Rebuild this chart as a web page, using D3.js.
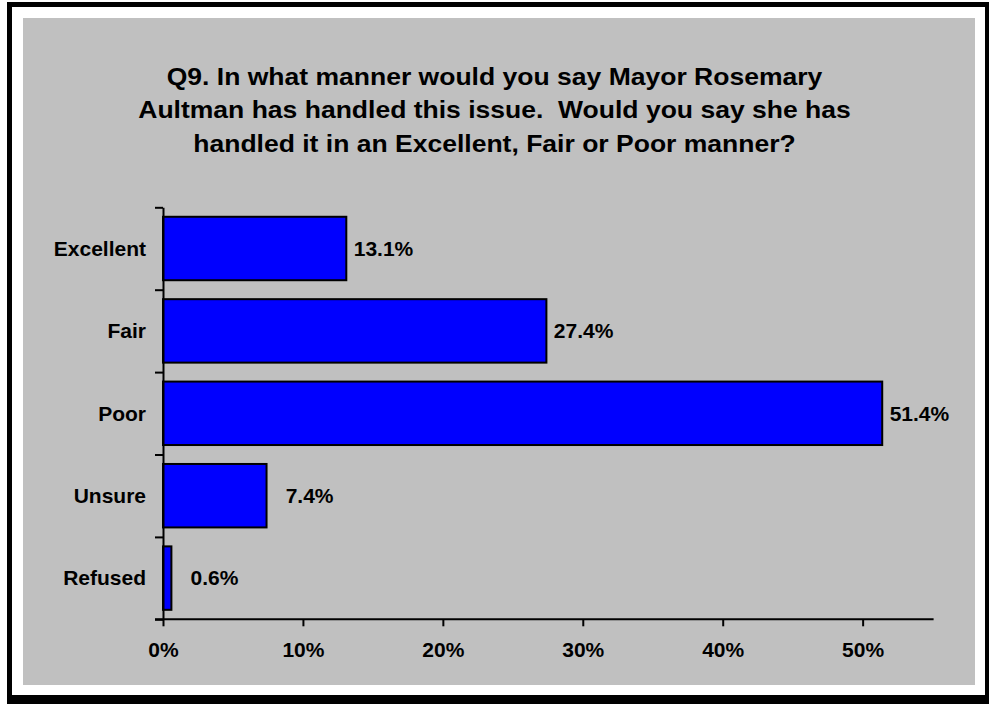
<!DOCTYPE html>
<html>
<head>
<meta charset="utf-8">
<script src="https://cdn.jsdelivr.net/npm/d3@7"></script>
<style>
  html, body { margin: 0; padding: 0; background: #fff; }
  svg text { font-family: Arial, "Liberation Sans", Helvetica, sans-serif; font-weight: bold; fill: #000; }
</style>
</head>
<body>
<svg id="chart" width="989" height="704"></svg>
<script>
const titleLines = [
  "Q9. In what manner would you say Mayor Rosemary",
  "Aultman has handled this issue.  Would you say she has",
  "handled it in an Excellent, Fair or Poor manner?"
];
const categories = ["Excellent", "Fair", "Poor", "Unsure", "Refused"];
const values = [13.1, 27.4, 51.4, 7.4, 0.6];
const xTicks = [0, 10, 20, 30, 40, 50];
const xMax = 55;

const svg = d3.select("#chart");

// frame: black shadow, white border, gray plot area
svg.append("rect").attr("x", 7).attr("y", 2).attr("width", 982).attr("height", 702).attr("fill", "#000");
svg.append("rect").attr("x", 12).attr("y", 7).attr("width", 973).attr("height", 688).attr("fill", "#fff");
svg.append("rect").attr("x", 23).attr("y", 18).attr("width", 952).attr("height", 667).attr("fill", "#C0C0C0");

// title
const tg = svg.append("g");
titleLines.forEach((t, i) => {
  tg.append("text")
    .attr("transform", `translate(494.5,${85 + i * 33.3}) scale(1.105,1)`)
    .attr("text-anchor", "middle")
    .style("font-size", "24px")
    .style("white-space", "pre")
    .text(t);
});

const plotLeft = 163, plotRight = 932.6, plotTop = 207.3, plotBottom = 619.3;

const x = d3.scaleLinear().domain([0, xMax]).range([plotLeft, plotRight]);
const y = d3.scaleBand().domain(categories).range([plotTop, plotBottom]).paddingInner(0.23).paddingOuter(0.115);
const yIdx = d3.scaleLinear().domain([0, categories.length]).range([plotTop, plotBottom]);

// bars
svg.append("g").selectAll("rect").data(values).join("rect")
  .attr("x", x(0))
  .attr("y", (d, i) => y(categories[i]))
  .attr("width", d => x(d) - x(0))
  .attr("height", y.bandwidth())
  .attr("fill", "#0000FF")
  .attr("stroke", "#000")
  .attr("stroke-width", 2);

// value labels
svg.append("g").selectAll("text").data(values).join("text")
  .attr("x", d => x(d) + 67)
  .attr("y", (d, i) => y(categories[i]) + y.bandwidth() / 2)
  .attr("dy", "0.35em")
  .attr("text-anchor", "end")
  .style("font-size", "21px")
  .text(d => d.toFixed(1) + "%");

// y axis (ticks at category boundaries)
const yAxis = d3.axisLeft(yIdx).tickValues(d3.range(0, categories.length + 1))
  .tickSize(8).tickSizeOuter(0).tickFormat("");
const yg = svg.append("g").attr("transform", `translate(${plotLeft},0)`).call(yAxis);
yg.selectAll("path, line").attr("stroke", "#000").attr("stroke-width", 2);

// category labels
svg.append("g").selectAll("text").data(categories).join("text")
  .attr("x", 146)
  .attr("y", d => y(d) + y.bandwidth() / 2)
  .attr("dy", "0.35em")
  .attr("text-anchor", "end")
  .style("font-size", "21px")
  .text(d => d);

// x axis
const xAxis = d3.axisBottom(x).tickValues(xTicks).tickSize(7).tickSizeOuter(0).tickPadding(16)
  .tickFormat(d => d + "%");
const xg = svg.append("g").attr("transform", `translate(0,${plotBottom})`).call(xAxis);
xg.select(".domain").attr("d", `M${plotLeft - 8},0H${plotRight + 1}`);
xg.selectAll("path, line").attr("stroke", "#000").attr("stroke-width", 2);
xg.selectAll("text").attr("fill", "#000").style("font-size", "21px")
  .style("font-family", 'Arial, "Liberation Sans", Helvetica, sans-serif').style("font-weight", "bold");
</script>
</body>
</html>
